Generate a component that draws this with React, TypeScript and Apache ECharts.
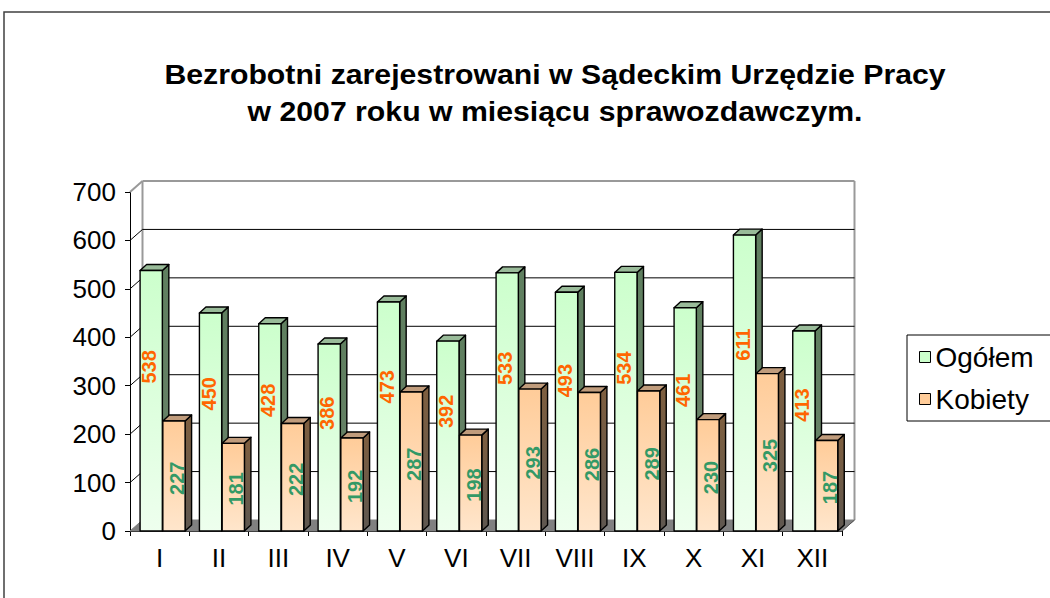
import React, { useEffect, useRef } from "react";
import * as echarts from "echarts";

// ---- data ----
const months = ["I", "II", "III", "IV", "V", "VI", "VII", "VIII", "IX", "X", "XI", "XII"];
const ogolem = [538, 450, 428, 386, 473, 392, 533, 493, 534, 461, 611, 413];
const kobiety = [227, 181, 222, 192, 287, 198, 293, 286, 289, 230, 325, 187];
const seriesNames = ["Ogółem", "Kobiety"];
const yMax = 700;
const yStep = 100;
const titleLines = [
  "Bezrobotni zarejestrowani w Sądeckim Urzędzie Pracy",
  "w 2007 roku w miesiącu sprawozdawczym.",
];

const FONT = "'Liberation Sans', Arial, Helvetica, sans-serif";

// depth of the 3D box (walls) and of the bars
const WDX = 12.5;
const WDY = -11;
const BDX = 6.5;
const BDY = -6;

type BarStyle = {
  front: [string, string];
  side: [string, string];
  top: string;
  labelColor: string;
  labelFrac: number;
  labelDx: number;
};

const barStyles: BarStyle[] = [
  {
    front: ["#CCFFCC", "#EEFFEE"],
    side: ["#5F7F5F", "#6A826A"],
    top: "#99BB99",
    labelColor: "#FF6600",
    labelFrac: 0.63,
    labelDx: -2,
  },
  {
    front: ["#FFCC99", "#FFE6CC"],
    side: ["#7F5F3F", "#5E5750"],
    top: "#C09C7C",
    labelColor: "#339966",
    labelFrac: 0.48,
    labelDx: 3,
  },
];

function makeBarRender(idx: number) {
  const st = barStyles[idx];
  return (params: any, api: any) => {
    const cat = api.value(0);
    const val = api.value(1);
    const [cx, base] = api.coord([cat, 0]);
    const topY = api.coord([cat, val])[1];
    const band = api.size([1, 0])[0];
    const w = band * 0.375;
    const left = cx - band * 0.33 + idx * (w + 0.5);
    const right = left + w;
    const h = base - topY;
    const stroke = { stroke: "#000", lineWidth: 1.4, lineJoin: "round" };
    return {
      type: "group",
      children: [
        {
          type: "polygon",
          shape: {
            points: [
              [right, topY],
              [right + BDX, topY + BDY],
              [right + BDX, base + BDY],
              [right, base],
            ],
          },
          style: {
            fill: new echarts.graphic.LinearGradient(0, 0, 0, 1, [
              { offset: 0, color: st.side[0] },
              { offset: 1, color: st.side[1] },
            ]),
            ...stroke,
          },
        },
        {
          type: "polygon",
          shape: {
            points: [
              [left, topY],
              [right, topY],
              [right + BDX, topY + BDY],
              [left + BDX, topY + BDY],
            ],
          },
          style: { fill: st.top, ...stroke },
        },
        {
          type: "rect",
          shape: { x: left, y: topY, width: w, height: h },
          style: {
            fill: new echarts.graphic.LinearGradient(0, 0, 0, 1, [
              { offset: 0, color: st.front[0] },
              { offset: 1, color: st.front[1] },
            ]),
            ...stroke,
          },
        },
        {
          type: "text",
          x: (left + right) / 2 + st.labelDx,
          y: base - h * st.labelFrac,
          rotation: Math.PI / 2,
          style: {
            text: String(val),
            fill: st.labelColor,
            font: `bold 20px ${FONT}`,
            align: "center",
            verticalAlign: "middle",
          },
        },
      ],
    };
  };
}

function wallRender(params: any, api: any) {
  const v = api.value(1);
  const cs = params.coordSys;
  const x0 = cs.x;
  const x1 = cs.x + cs.width;
  const y = api.coord([0, v])[1];
  const children: any[] = [];
  if (v === 0) {
    const yTop = api.coord([0, yMax])[1];
    children.push({
      type: "polygon",
      shape: {
        points: [
          [x0, y],
          [x1, y],
          [x1 + WDX, y + WDY],
          [x0 + WDX, y + WDY],
        ],
      },
      style: { fill: "#808080", stroke: "#808080", lineWidth: 1 },
    });
    children.push({
      type: "line",
      shape: { x1: x0 + WDX, y1: yTop + WDY, x2: x0 + WDX, y2: y + WDY },
      style: { stroke: "#999999", lineWidth: 2 },
    });
    children.push({
      type: "line",
      shape: { x1: x1 + WDX, y1: yTop + WDY, x2: x1 + WDX, y2: y + WDY },
      style: { stroke: "#999999", lineWidth: 2 },
    });
    children.push({
      type: "line",
      shape: { x1: x1, y1: y, x2: x1 + WDX, y2: y + WDY },
      style: { stroke: "#555555", lineWidth: 1 },
    });
  } else {
    const top = v === yMax;
    const color = top ? "#999999" : "#000000";
    const lw = top ? 2 : 1;
    children.push({
      type: "line",
      shape: { x1: x0 + WDX, y1: y + WDY, x2: x1 + WDX, y2: y + WDY },
      style: { stroke: color, lineWidth: lw },
    });
    children.push({
      type: "line",
      shape: { x1: x0, y1: y, x2: x0 + WDX, y2: y + WDY },
      style: { stroke: color, lineWidth: lw },
    });
  }
  return { type: "group", children };
}

export default function App() {
  const ref = useRef<HTMLDivElement>(null);
  useEffect(() => {
    if (!ref.current) return;
    const chart = echarts.init(ref.current, undefined, { renderer: "svg" });
    const wallData: number[][] = [];
    for (let v = 0; v <= yMax; v += yStep) wallData.push([0, v]);

    chart.setOption({
      animation: false,
      backgroundColor: "#ffffff",
      textStyle: { fontFamily: FONT },
      graphic: [
        {
          type: "rect",
          shape: { x: 4, y: 12, width: 1100, height: 700 },
          style: { fill: "none", stroke: "#404040", lineWidth: 1.5 },
          silent: true,
        },
        {
          type: "text",
          x: 555,
          y: 75,
          scaleX: 1.12,
          style: {
            text: titleLines[0],
            font: `bold 27px ${FONT}`,
            fill: "#000",
            align: "center",
            verticalAlign: "middle",
          },
        },
        {
          type: "text",
          x: 555,
          y: 112,
          scaleX: 1.12,
          style: {
            text: titleLines[1],
            font: `bold 27px ${FONT}`,
            fill: "#000",
            align: "center",
            verticalAlign: "middle",
          },
        },
      ],
      legend: {
        orient: "vertical",
        left: 907,
        top: 335,
        icon: "rect",
        itemWidth: 11,
        itemHeight: 11,
        itemGap: 12,
        padding: [7, 30, 7, 12],
        borderColor: "#000",
        borderWidth: 1,
        textStyle: { fontSize: 28, lineHeight: 30, color: "#000", fontFamily: FONT },
        data: [
          { name: seriesNames[0], itemStyle: { color: "#CCFFCC", borderColor: "#000", borderWidth: 1 } },
          { name: seriesNames[1], itemStyle: { color: "#FFCC99", borderColor: "#000", borderWidth: 1 } },
        ],
      },
      grid: { left: 130, right: 208, top: 192, bottom: 67, containLabel: false },
      xAxis: {
        type: "category",
        data: months,
        boundaryGap: true,
        axisLine: { show: true, lineStyle: { color: "#000", width: 1 } },
        axisTick: { show: true, length: 5, lineStyle: { color: "#000" } },
        axisLabel: { fontSize: 26, color: "#000", margin: 14, fontFamily: FONT },
        splitLine: { show: false },
      },
      yAxis: {
        type: "value",
        min: 0,
        max: yMax,
        interval: yStep,
        axisLine: { show: true, lineStyle: { color: "#000", width: 1 } },
        axisTick: { show: true, length: 5, lineStyle: { color: "#000" } },
        axisLabel: { fontSize: 26, color: "#000", margin: 14, fontFamily: FONT },
        splitLine: { show: false },
      },
      series: [
        {
          type: "custom",
          name: "walls",
          silent: true,
          renderItem: wallRender,
          data: wallData,
          z: 1,
        },
        {
          type: "custom",
          name: seriesNames[0],
          renderItem: makeBarRender(0),
          data: ogolem.map((v, i) => [i, v]),
          itemStyle: { color: "#CCFFCC", borderColor: "#000", borderWidth: 1 },
          z: 2,
        },
        {
          type: "custom",
          name: seriesNames[1],
          renderItem: makeBarRender(1),
          data: kobiety.map((v, i) => [i, v]),
          itemStyle: { color: "#FFCC99", borderColor: "#000", borderWidth: 1 },
          z: 3,
        },
      ],
    });
    return () => chart.dispose();
  }, []);
  return (
    <div
      ref={ref}
      style={{ position: "fixed", left: 0, top: 0, width: 1050, height: 598 }}
    />
  );
}
